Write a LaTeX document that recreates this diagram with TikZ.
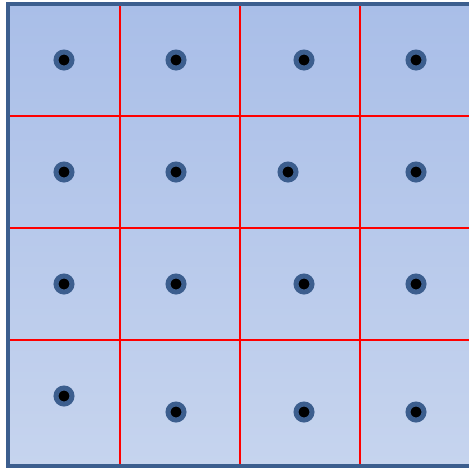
\documentclass[tikz,border=0pt]{standalone}
\usepackage{tikz}
\usetikzlibrary{positioning,calc}
\usepackage{xcolor}
\definecolor{framblue}{HTML}{3C5E8E}
\definecolor{celltop}{HTML}{A9BEE8}
\definecolor{cellbot}{HTML}{C6D4EE}
\tikzset{
    gridframe/.style={draw=framblue, line width=4pt, top color=celltop, bottom color=cellbot},
    gridline/.style={draw=red, line width=2.6pt},
    cellpt/.style={circle, fill=black, draw=framblue, line width=5pt, inner sep=0pt, minimum size=16pt}
}

\begin{document}
\begin{tikzpicture}[x=1pt, y=-1pt]
        \useasboundingbox (0,0) rectangle (469,469);
        \path[gridframe] (8,4) rectangle (476,466);

        % red cell borders
        \foreach \gx in {120,240,360}
            \draw[gridline] (\gx,6) -- (\gx,464);
        \foreach \gy in {116,228,340}
            \draw[gridline] (10,\gy) -- (469,\gy);

        % one point per cell
        \foreach \px/\py/\pn in {64/60/p11, 176/60/p12, 304/60/p13, 416/60/p14,
                                 64/172/p21, 176/172/p22, 288/172/p23, 416/172/p24,
                                 64/284/p31, 176/284/p32, 304/284/p33, 416/284/p34,
                                 64/396/p41, 176/412/p42, 304/412/p43, 416/412/p44}
            \node[cellpt] (\pn) at (\px,\py) {};
    \end{tikzpicture}
\end{document}
